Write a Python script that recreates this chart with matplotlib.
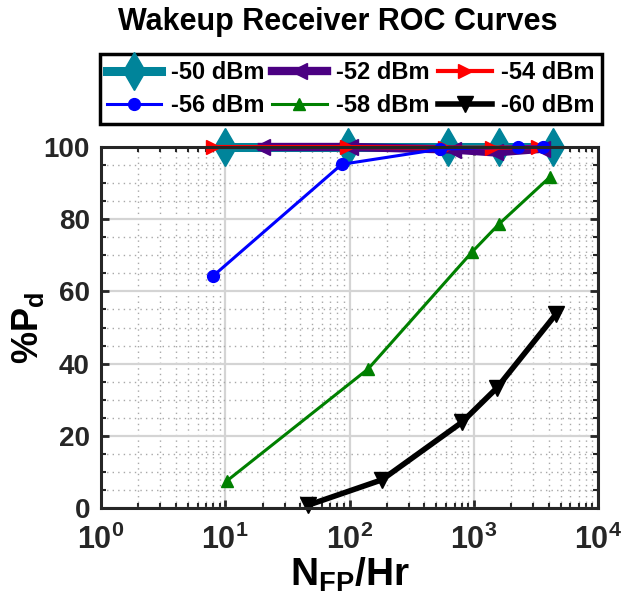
import numpy as np
import matplotlib
matplotlib.use('Agg')
import matplotlib.pyplot as plt
from matplotlib.ticker import LogLocator, FixedLocator, NullFormatter

plt.rcParams['font.family'] = ['Liberation Sans', 'DejaVu Sans']
plt.rcParams['font.weight'] = 'bold'
plt.rcParams['axes.labelweight'] = 'bold'
plt.rcParams['mathtext.fontset'] = 'custom'
plt.rcParams['mathtext.rm'] = 'Liberation Sans:bold'
plt.rcParams['mathtext.bf'] = 'Liberation Sans:bold'
plt.rcParams['mathtext.it'] = 'Liberation Sans:bold'
plt.rcParams['mathtext.default'] = 'regular'

# data (x = false positives per hour, y = % detection)
labels = ['-50 dBm', '-52 dBm', '-54 dBm', '-56 dBm', '-58 dBm', '-60 dBm']

x_50 = [10, 97, 617, 1600, 4320]
y_50 = [100, 100, 100, 100, 100]

x_52 = [19.7, 101, 680, 1480, 3520]
y_52 = [100, 100, 99.3, 98.5, 99.5]

x_54 = [8, 95, 587, 1390, 3290]
y_54 = [100, 100, 99.8, 99.8, 100]

x_56 = [8, 86.5, 535, 2260, 3590]
y_56 = [64.3, 95.2, 99.4, 100, 100]

x_58 = [10.3, 141, 968, 1600, 4110]
y_58 = [7.5, 38.5, 70.9, 78.7, 91.7]

x_60 = [46.6, 182, 800, 1530, 4590]
y_60 = [0.8, 7.8, 23.7, 33.2, 53.7]

xticks = [1, 10, 100, 1000, 10000]
xticklabels = [r'$10^{0}$', r'$10^{1}$', r'$10^{2}$', r'$10^{3}$', r'$10^{4}$']
yticks = [0, 20, 40, 60, 80, 100]

fig = plt.figure(figsize=(6.32, 6.08), dpi=100)
ax = fig.add_axes([101/632, 1 - 508/608, 497/632, 361/608])

teal = '#00849a'
h50, = ax.plot(x_50, y_50, color=teal, lw=6.5, marker='d', ms=19, clip_on=False, label=labels[0])
h52, = ax.plot(x_52, y_52, color='#4b0082', lw=6, marker='<', ms=12, clip_on=False, label=labels[1])
h54, = ax.plot(x_54, y_54, color='red', lw=3, marker='>', ms=10, clip_on=False, label=labels[2])
h56, = ax.plot(x_56, y_56, color='blue', lw=2.2, marker='o', ms=8.5, clip_on=False, label=labels[3])
h58, = ax.plot(x_58, y_58, color='green', lw=2.2, marker='^', ms=8.5, clip_on=False, label=labels[4])
h60, = ax.plot(x_60, y_60, color='black', lw=4, marker='v', ms=11, clip_on=False, label=labels[5])

ax.set_xscale('log')
ax.set_xlim(1, 10000)
ax.set_ylim(0, 100)
ax.xaxis.set_major_locator(FixedLocator(xticks))
ax.set_xticklabels(xticklabels)
ax.xaxis.set_minor_locator(LogLocator(base=10, subs=np.arange(2, 10)))
ax.xaxis.set_minor_formatter(NullFormatter())
ax.set_yticks(yticks)
ax.yaxis.set_minor_locator(FixedLocator(np.arange(0, 101, 5)))

ax.grid(True, which='major', color='#d4d4d4', lw=1.6, ls='-')
ax.grid(True, which='minor', color='#a8a8a8', lw=1.0, ls=(0, (1, 3)))
ax.set_axisbelow(True)

ax.tick_params(which='both', direction='in', top=True, right=True, colors='#262626')
ax.tick_params(which='major', length=6, width=2, labelsize=20)
ax.tick_params(axis='x', which='major', pad=12, labelsize=22)
ax.tick_params(axis='y', which='major', pad=8)
ax.tick_params(which='minor', length=3.5, width=1.5)
for s in ax.spines.values():
    s.set_linewidth(2.2)
    s.set_color('#262626')

ax.set_xlabel(r'N$_{FP}$/Hr', fontsize=28, labelpad=0)
ax.set_ylabel(r'%P$_{d}$', fontsize=26, labelpad=-2)

fig.text(338/632, 1 - 22/608, 'Wakeup Receiver ROC Curves', fontsize=22,
         ha='center', va='center', color='black')

# row-wise order like the reference (matplotlib fills legend columns first)
handles = [h50, h56, h52, h58, h54, h60]
leg = fig.legend(handles, [h.get_label() for h in handles],
                 loc='lower left', bbox_to_anchor=(100/632, 1 - 124/608, 502/632, 70/608),
                 mode='expand', ncol=3, fontsize=17, frameon=True, fancybox=False,
                 edgecolor='black', framealpha=1, numpoints=1, handlelength=2.3,
                 handletextpad=0.4, labelspacing=0.4, borderpad=0.3, columnspacing=1.2,
                 borderaxespad=0)
leg.get_frame().set_linewidth(2.5)

fig.savefig('out.png', dpi=100)
